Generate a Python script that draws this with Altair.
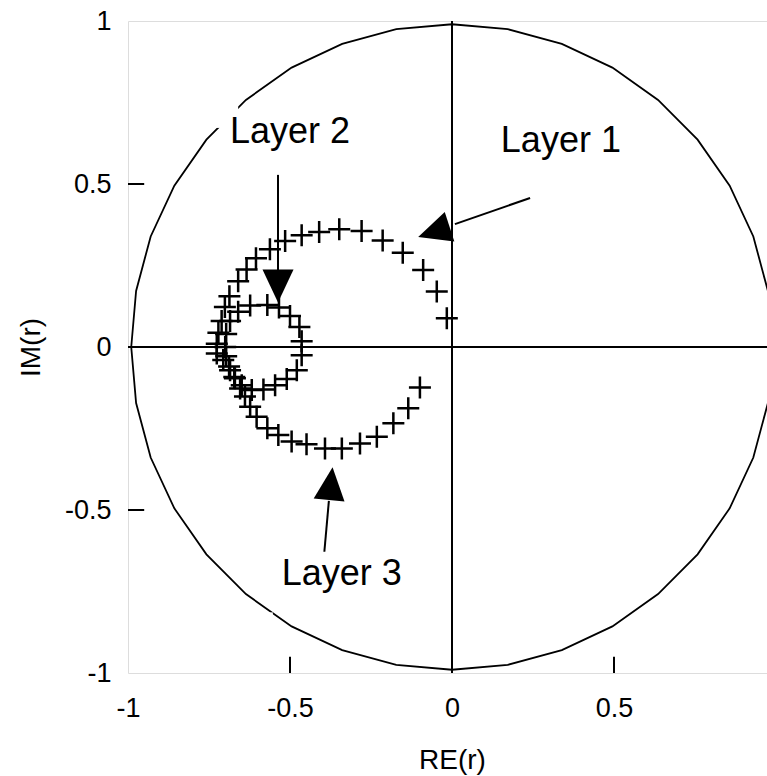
import altair as alt
import pandas as pd

FONT = "Liberation Sans"

# unit-circle outline (polygon, r ~ 0.99, vertices every 10 degrees)
circle_x = [0.990, 0.975, 0.930, 0.857, 0.758, 0.636, 0.495, 0.339, 0.172, 0.000,
            -0.172, -0.339, -0.495, -0.636, -0.758, -0.857, -0.930, -0.975, -0.990,
            -0.975, -0.930, -0.857, -0.758, -0.636, -0.495, -0.339, -0.172, 0.000,
            0.172, 0.339, 0.495, 0.636, 0.758, 0.857, 0.930, 0.975, 0.990]
circle_y = [0.000, 0.172, 0.339, 0.495, 0.636, 0.758, 0.857, 0.930, 0.975, 0.990,
            0.975, 0.930, 0.857, 0.758, 0.636, 0.495, 0.339, 0.172, 0.000,
            -0.172, -0.339, -0.495, -0.636, -0.758, -0.857, -0.930, -0.975, -0.990,
            -0.975, -0.930, -0.857, -0.758, -0.636, -0.495, -0.339, -0.172, 0.000]

# Layer 1 (upper large arc)
l1_re = [-0.016, -0.047, -0.089, -0.152, -0.214, -0.279, -0.348, -0.410, -0.464, -0.515,
         -0.562, -0.605, -0.634, -0.660, -0.687, -0.701, -0.711, -0.721, -0.726, -0.726]
l1_im = [0.088, 0.170, 0.236, 0.289, 0.327, 0.356, 0.361, 0.353, 0.343, 0.325,
         0.300, 0.272, 0.238, 0.202, 0.156, 0.123, 0.080, 0.044, 0.010, -0.020]

# Layer 2 (small inner loop)
l2_re = [-0.700, -0.697, -0.685, -0.660, -0.623, -0.570, -0.534, -0.500, -0.471, -0.464,
         -0.464, -0.479, -0.510, -0.546, -0.582, -0.618, -0.649, -0.672, -0.688, -0.697]
l2_im = [0.000, 0.040, 0.080, 0.108, 0.127, 0.129, 0.121, 0.095, 0.061, 0.018,
         -0.025, -0.071, -0.098, -0.117, -0.130, -0.132, -0.117, -0.092, -0.060, -0.028]

# Layer 3 (lower arc)
l3_re = [-0.706, -0.685, -0.670, -0.654, -0.639, -0.623, -0.603, -0.570, -0.536, -0.495,
         -0.449, -0.392, -0.340, -0.284, -0.232, -0.181, -0.135, -0.099]
l3_im = [-0.040, -0.071, -0.096, -0.127, -0.152, -0.183, -0.214, -0.249, -0.270, -0.290,
         -0.298, -0.311, -0.311, -0.296, -0.275, -0.234, -0.188, -0.124]

# annotations
label_text = ["Layer 1", "Layer 2", "Layer 3"]
label_x = [0.336, -0.500, -0.340]
label_y = [0.598, 0.626, -0.730]

shaft_x = [0.241, -0.537, -0.394]
shaft_y = [0.457, 0.528, -0.628]
shaft_x2 = [0.009, -0.537, -0.380]
shaft_y2 = [0.377, 0.236, -0.472]

head_x = [-0.056, -0.537, -0.374]
head_y = [0.353, 0.187, -0.419]
head_angle = [72, 0, 186]

# white masks where the circle is interrupted
mask_x = [-0.740, -0.580]
mask_x2 = [-0.660, -0.553]
mask_y = [0.672, -0.852]
mask_y2 = [0.745, -0.814]

# inward ticks
tick_vals = [-0.5, 0.5]
tick_len = 0.05

xs = alt.Scale(domain=[-1, 1], nice=False, zero=False)
ys = alt.Scale(domain=[-1, 1], nice=False, zero=False)

xaxis = alt.Axis(values=[-1, -0.5, 0, 0.5, 1], labelExpr="'' + datum.value",
                 ticks=False, domain=False, grid=False, labelFlush=False,
                 labelFont=FONT, labelFontSize=27, labelColor="black", labelPadding=22,
                 titleFont=FONT, titleFontSize=28, titleFontWeight="normal",
                 titleColor="black", titleY=95, titleBaseline="alphabetic")
yaxis = alt.Axis(values=[-1, -0.5, 0, 0.5, 1], labelExpr="'' + datum.value",
                 ticks=False, domain=False, grid=False, labelFlush=False,
                 labelFont=FONT, labelFontSize=27, labelColor="black", labelPadding=17,
                 titleFont=FONT, titleFontSize=28, titleFontWeight="normal",
                 titleColor="black", titleX=-89, titleY=326, titleBaseline="alphabetic")


def X(f):
    return alt.X(f, scale=xs, axis=xaxis, title="RE(r)")


def Y(f):
    return alt.Y(f, scale=ys, axis=yaxis, title="IM(r)")


circle_df = pd.DataFrame({"x": circle_x, "y": circle_y, "o": list(range(len(circle_x)))})
circle = alt.Chart(circle_df).mark_line(color="black", strokeWidth=1.8).encode(
    x=X("x:Q"), y=Y("y:Q"), order="o:Q")

mask_df = pd.DataFrame({"x": mask_x, "x2": mask_x2, "y": mask_y, "y2": mask_y2})
masks = alt.Chart(mask_df).mark_rect(color="white").encode(
    x=X("x:Q"), x2="x2:Q", y=Y("y:Q"), y2="y2:Q")

zero_df = pd.DataFrame({"x": [0, -1], "x2": [0, 1], "y": [-1, 0], "y2": [1, 0]})
zeros = alt.Chart(zero_df).mark_rule(color="black", strokeWidth=2).encode(
    x=X("x:Q"), x2="x2:Q", y=Y("y:Q"), y2="y2:Q")

xt_df = pd.DataFrame({"x": tick_vals, "y": [-1] * 2, "y2": [-1 + tick_len] * 2})
xticks = alt.Chart(xt_df).mark_rule(color="black", strokeWidth=2).encode(
    x=X("x:Q"), y=Y("y:Q"), y2="y2:Q")
yt_df = pd.DataFrame({"y": tick_vals, "x": [-1] * 2, "x2": [-1 + tick_len] * 2})
yticks = alt.Chart(yt_df).mark_rule(color="black", strokeWidth=2).encode(
    y=Y("y:Q"), x=X("x:Q"), x2="x2:Q")

pts = pd.DataFrame({
    "x": l1_re + l2_re + l3_re,
    "y": l1_im + l2_im + l3_im,
    "layer": ["Layer 1"] * len(l1_re) + ["Layer 2"] * len(l2_re) + ["Layer 3"] * len(l3_re),
})
crosses = alt.Chart(pts).mark_point(
    shape="M-1,0L1,0M0,-1L0,1", size=484, filled=False, color="black",
    strokeWidth=2.5, opacity=1).encode(x=X("x:Q"), y=Y("y:Q"))

shaft_df = pd.DataFrame({"x": shaft_x, "y": shaft_y, "x2": shaft_x2, "y2": shaft_y2})
shafts = alt.Chart(shaft_df).mark_rule(color="black", strokeWidth=2).encode(
    x=X("x:Q"), x2="x2:Q", y=Y("y:Q"), y2="y2:Q")

head_df = pd.DataFrame({"x": head_x, "y": head_y, "a": head_angle})
heads = alt.Chart(head_df).mark_point(
    shape="M0,1L-0.94,-1L0.94,-1Z", size=1089, filled=True, color="black",
    opacity=1, strokeWidth=0).encode(x=X("x:Q"), y=Y("y:Q"),
                                     angle=alt.Angle("a:Q", scale=None))

label_df = pd.DataFrame({"x": label_x, "y": label_y, "t": label_text})
labels = alt.Chart(label_df).mark_text(
    font=FONT, fontSize=36, color="black", align="center", baseline="alphabetic").encode(
    x=X("x:Q"), y=Y("y:Q"), text="t:N")

chart = alt.layer(circle, masks, zeros, xticks, yticks, crosses, shafts, heads, labels).properties(
    width=648, height=652,
    padding={"left": 128, "top": 21, "right": -9, "bottom": 103},
    autosize="none",
).configure_view(stroke="black", strokeWidth=2).configure(background="white")

chart.save("out.html", embed_options={"renderer": "svg", "actions": False})
